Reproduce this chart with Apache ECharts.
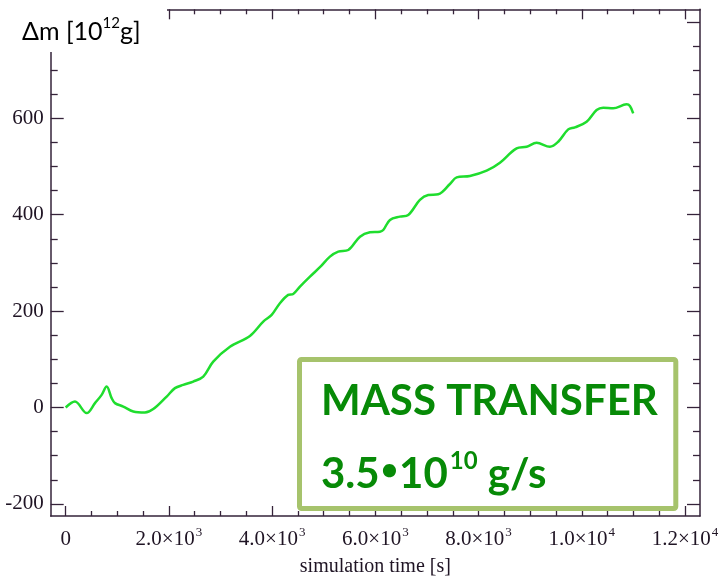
<!DOCTYPE html>
<html>
<head>
<meta charset="utf-8">
<script src="https://cdn.jsdelivr.net/npm/echarts@6/dist/echarts.min.js"></script>
<style>
  html, body { margin: 0; padding: 0; background: #fff; }
  #chart { width: 720px; height: 577px; }
</style>
</head>
<body>
<div id="chart"></div>
<script>
// Simulation time [s]
var timeS = [0, 180, 407, 568, 697, 794, 891, 955, 1116, 1310, 1536, 1697, 1957, 2117,
  2278, 2472, 2666, 2859, 3183, 3570, 3828, 3991, 4151, 4312, 4409, 4539, 4733, 4926,
  5120, 5281, 5475, 5702, 5895, 6089, 6153, 6283, 6476, 6637, 6863, 7024, 7218, 7445,
  7575, 7832, 8156, 8414, 8737, 8931, 9124, 9382, 9543, 9737, 9866, 10093, 10287,
  10415, 10608, 10868, 10932, 10996];
// Transferred mass Δm [10^12 g]
var deltaM = [0, 12.4, -11.6, 9.1, 26.3, 43.5, 19.5, 9.1, 2.1, -8.3, -10.4, -3.3, 22.8, 40.2,
  47.0, 53.9, 64.2, 95.3, 126, 148.6, 178.2, 192.1, 216.4, 233.6, 235.6, 250.8, 271.5, 291.0,
  313.0, 323.3, 326.8, 354.4, 363.5, 364.8, 368.3, 389.0, 395.9, 399.4, 430.5, 440.8, 442.3, 463.6,
  477.5, 480.2, 491.2, 507.8, 537.6, 540.9, 549.2, 540.9, 551.3, 577.0, 581.1, 592.7, 617.0,
  621.8, 620.5, 628.8, 625.3, 610.2];

var xMajorTicks = [0, 2000, 4000, 6000, 8000, 10000, 12000];
var xTickLabels = ['0', '2.0×10^3', '4.0×10^3', '6.0×10^3', '8.0×10^3', '1.0×10^4', '1.2×10^4'];
var xMinorTicks = [500, 1000, 1500, 2500, 3000, 3500, 4500, 5000, 5500, 6500, 7000, 7500,
  8500, 9000, 9500, 10500, 11000, 11500];
var yMajorTicks = [-200, 0, 200, 400, 600, 800];
var yTickLabels = ['-200', '0', '200', '400', '600', '800'];
var yMinorTicks = [-150, -100, -50, 50, 100, 150, 250, 300, 350, 450, 500, 550, 650, 700, 750];

var X_MIN = -290, X_MAX = 12290, Y_MIN = -225, Y_MAX = 826;
var AXIS_COLOR = '#35233a';
var LABEL_COLOR = '#1f1424';
var SERIF = '"Liberation Serif", "DejaVu Serif", serif';

function pairs() {
  var out = [];
  for (var i = 0; i < timeS.length; i++) out.push([timeS[i], deltaM[i]]);
  return out;
}

function xLabel(value) {
  var i = xMajorTicks.indexOf(value);
  var s = i >= 0 ? xTickLabels[i] : String(value);
  var parts = s.split('^');
  if (parts.length === 1) return '{n|' + parts[0] + '}';
  return '{n|' + parts[0] + '}{s|' + parts[1] + '}';
}
function yLabel(value) {
  var i = yMajorTicks.indexOf(value);
  return i >= 0 ? yTickLabels[i] : String(value);
}

function xAxisDef(pos, ticks, len, withLabels, withLine) {
  return {
    type: 'value', position: pos, min: X_MIN, max: X_MAX,
    axisLine: { show: withLine, onZero: false, lineStyle: { color: AXIS_COLOR, width: 1.5 } },
    axisTick: { show: true, inside: true, length: len, customValues: ticks,
      lineStyle: { color: AXIS_COLOR, width: 1.3 } },
    axisLabel: withLabels ? {
      show: true, customValues: ticks, margin: 9, formatter: xLabel,
      rich: {
        n: { fontFamily: SERIF, fontSize: 21, color: LABEL_COLOR, lineHeight: 25, verticalAlign: 'bottom' },
        s: { fontFamily: SERIF, fontSize: 13, color: LABEL_COLOR, lineHeight: 25, verticalAlign: 'top', padding: [1, 0, 0, 1] }
      }
    } : { show: false },
    splitLine: { show: false }
  };
}
function yAxisDef(pos, ticks, len, withLabels, withLine) {
  return {
    type: 'value', position: pos, min: Y_MIN, max: Y_MAX,
    axisLine: { show: withLine, onZero: false, lineStyle: { color: AXIS_COLOR, width: 1.5 } },
    axisTick: { show: true, inside: true, length: len, customValues: ticks,
      lineStyle: { color: AXIS_COLOR, width: 1.3 } },
    axisLabel: withLabels ? {
      show: true, customValues: ticks, margin: 7, formatter: yLabel,
      fontFamily: SERIF, fontSize: 21, color: LABEL_COLOR
    } : { show: false },
    splitLine: { show: false }
  };
}

var xBottom = xAxisDef('bottom', xMajorTicks, 10, true, true);
xBottom.name = 'simulation time [s]';
xBottom.nameLocation = 'middle';
xBottom.nameGap = 41;
xBottom.nameTextStyle = { fontFamily: SERIF, fontSize: 20, color: LABEL_COLOR };

var chart = echarts.init(document.getElementById('chart'), null, { renderer: 'canvas' });
chart.setOption({
  animation: false,
  backgroundColor: '#ffffff',
  grid: { left: 50.7, right: 20, top: 9.3, bottom: 61, containLabel: false, outerBoundsMode: 'none' },
  xAxis: [
    xBottom,
    xAxisDef('bottom', xMinorTicks, 5, false, false),
    xAxisDef('top', xMajorTicks, 10, false, true),
    xAxisDef('top', xMinorTicks, 5, false, false)
  ],
  yAxis: [
    yAxisDef('left', yMajorTicks, 13, true, true),
    yAxisDef('left', yMinorTicks, 7, false, false),
    yAxisDef('right', yMajorTicks, 13, false, true),
    yAxisDef('right', yMinorTicks, 7, false, false)
  ],
  series: [{
    type: 'line',
    xAxisIndex: 0, yAxisIndex: 0,
    data: pairs(),
    smooth: 0.35,
    showSymbol: false,
    lineStyle: { color: '#1fdd2e', width: 2.5 },
    z: 3
  }],
  graphic: [
    // white panel behind the y-axis unit label
    { type: 'rect', z: 100, shape: { x: 0, y: 0, width: 167, height: 52 }, style: { fill: '#ffffff' } },
    {
      type: 'text', z: 101, x: 22, y: 30,
      style: {
        text: '{a|Δm [10}{s|12}{a|g]}',
        verticalAlign: 'middle',
        rich: {
          a: { fontFamily: 'Lato', fontSize: 25, fill: '#000000', lineHeight: 29, verticalAlign: 'bottom' },
          s: { fontFamily: 'Lato', fontSize: 15, fill: '#000000', lineHeight: 29, verticalAlign: 'top' }
        }
      }
    },
    // annotation box
    {
      type: 'rect', z: 100,
      shape: { x: 299.5, y: 359.5, width: 376.3, height: 149, r: 2 },
      style: { fill: '#ffffff', stroke: '#a6c36c', lineWidth: 5 }
    },
    {
      type: 'text', z: 101, x: 321, y: 401,
      style: {
        text: 'MASS TRANSFER', verticalAlign: 'middle',
        font: 'bold 42px Lato', fill: '#078a07'
      }
    },
    {
      type: 'text', z: 101, x: 321, y: 470,
      style: {
        text: '{b|3.5}{d|•}{b|10}{s|10}{b| g/s}',
        verticalAlign: 'middle',
        rich: {
          b: { fontFamily: 'Lato', fontWeight: 'bold', fontSize: 42, fill: '#078a07', lineHeight: 50, verticalAlign: 'bottom' },
          d: { fontFamily: 'Lato', fontWeight: 'bold', fontSize: 30, fill: '#078a07', lineHeight: 50, verticalAlign: 'middle', padding: [0, 1, 0, 1] },
          s: { fontFamily: 'Lato', fontWeight: 'bold', fontSize: 24, fill: '#078a07', lineHeight: 50, verticalAlign: 'top', padding: [4, 0, 0, 2] }
        }
      }
    }
  ]
});
</script>
</body>
</html>
